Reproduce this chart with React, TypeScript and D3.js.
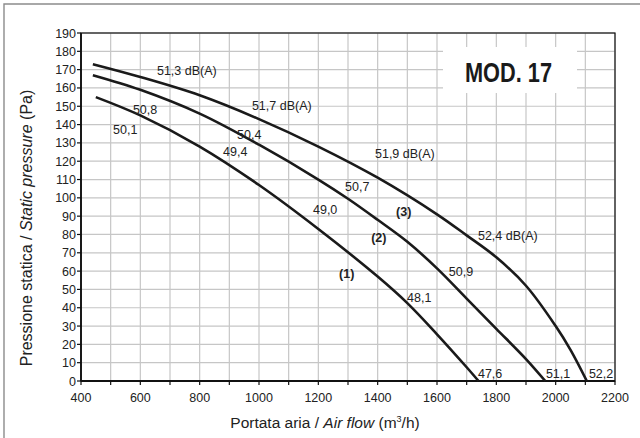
import React from "react";
import * as d3 from "d3";

// Fan performance curves: static pressure vs air flow, three speeds
const flowTicks = [400, 600, 800, 1000, 1200, 1400, 1600, 1800, 2000, 2200];
const flowGrid = d3.range(400, 2201, 100);
const pressureTicks = d3.range(0, 191, 10);

const speed1Flow = [450, 600, 800, 1000, 1200, 1400, 1500, 1600, 1700, 1740];
const speed1Pressure = [155, 145, 128, 107, 83, 57, 42.5, 25.5, 7.5, 0];

const speed2Flow = [440, 600, 800, 1000, 1200, 1300, 1400, 1500, 1600, 1700, 1800, 1900, 1965];
const speed2Pressure = [167, 159, 146, 129, 110, 99.5, 88, 76, 61.5, 45, 28.5, 12, 0];

const speed3Flow = [440, 600, 800, 1000, 1200, 1400, 1600, 1700, 1800, 1900, 2000, 2050, 2105];
const speed3Pressure = [173, 166, 156, 143, 128, 111, 91, 79.5, 67.5, 52, 30, 17, 0];

// Noise level annotations (flow, pressure anchor for text's left/baseline)
const noiseText = ["51,3 dB(A)", "50,8", "50,1", "49,4", "50,4", "51,7 dB(A)", "51,9 dB(A)", "50,7", "49,0", "52,4 dB(A)", "50,9", "48,1", "47,6", "51,1", "52,2"];
const noiseFlow = [656, 575, 508, 879, 926, 976, 1391, 1290, 1182, 1738, 1640, 1499, 1738, 1967, 2112];
const noisePressure = [167, 146, 135, 123, 132, 148, 121.8, 104, 91, 77, 57.3, 43.1, 1.6, 1.6, 1.6];

const curveText = ["(1)", "(2)", "(3)"];
const curveTextFlow = [1270, 1378, 1462];
const curveTextPressure = [56, 76, 90];

const W = 640;
const H = 438;
const plot = { left: 81, right: 615, top: 33, bottom: 381 };
const FONT = "'Liberation Sans', Arial, Helvetica, sans-serif";

export default function App() {
  const x = d3.scaleLinear().domain([400, 2200]).range([plot.left, plot.right]);
  const y = d3.scaleLinear().domain([0, 190]).range([plot.bottom, plot.top]);

  const line = d3
    .line<[number, number]>()
    .x((d) => x(d[0]))
    .y((d) => y(d[1]))
    .curve(d3.curveCatmullRom.alpha(0.5));

  const series = [
    d3.zip(speed1Flow, speed1Pressure) as [number, number][],
    d3.zip(speed2Flow, speed2Pressure) as [number, number][],
    d3.zip(speed3Flow, speed3Pressure) as [number, number][],
  ];

  return (
    <svg
      width={W}
      height={H}
      viewBox={`0 0 ${W} ${H}`}
      style={{ position: "absolute", left: 0, top: 0, background: "#fff" }}
      fontFamily={FONT}
    >
      <rect x={0} y={0} width={W} height={H} fill="#fff" />
      {/* outer frame */}
      <path d={`M4,${H + 2} V4 H${W + 2}`} fill="none" stroke="#8c8c8c" strokeWidth={1.4} />

      {/* grid */}
      <g stroke="#c6c6c6" strokeWidth={1.2}>
        {flowGrid.map((v) => (
          <line key={"gx" + v} x1={x(v)} x2={x(v)} y1={plot.top} y2={plot.bottom} />
        ))}
        {pressureTicks.map((v) => (
          <line key={"gy" + v} x1={plot.left} x2={plot.right} y1={y(v)} y2={y(v)} />
        ))}
      </g>

      {/* model label box */}
      <rect x={443} y={47} width={134} height={46} fill="#fff" />
      <text
        x={508.5}
        y={82}
        textAnchor="middle"
        fontSize={27}
        fontWeight="bold"
        fill="#1a1a1a"
        textLength={87}
        lengthAdjust="spacingAndGlyphs"
      >
        MOD. 17
      </text>

      {/* plot border */}
      <rect
        x={plot.left}
        y={plot.top}
        width={plot.right - plot.left}
        height={plot.bottom - plot.top}
        fill="none"
        stroke="#111"
        strokeWidth={1.2}
      />
      <line x1={plot.left} x2={plot.left} y1={plot.top} y2={plot.bottom} stroke="#111" strokeWidth={1.8} />
      <line x1={plot.left} x2={plot.right} y1={plot.bottom} y2={plot.bottom} stroke="#111" strokeWidth={1.8} />

      {/* y ticks */}
      {pressureTicks.map((v) => (
        <g key={"ty" + v}>
          <line x1={plot.left - 4} x2={plot.left} y1={y(v)} y2={y(v)} stroke="#111" strokeWidth={1.2} />
          <text x={plot.left - 5} y={y(v) + 4.5} textAnchor="end" fontSize={12.5} fill="#222">
            {v}
          </text>
        </g>
      ))}

      {/* x ticks */}
      {flowGrid.map((v) => (
        <line key={"tx" + v} x1={x(v)} x2={x(v)} y1={plot.bottom} y2={plot.bottom + 4} stroke="#111" strokeWidth={1.2} />
      ))}
      {flowTicks.map((v) => (
        <text key={"lx" + v} x={x(v)} y={402} textAnchor="middle" fontSize={12.5} fill="#222">
          {v}
        </text>
      ))}

      {/* axis titles */}
      <text x={325} y={428} textAnchor="middle" fontSize={15.5} fill="#222">
        Portata aria / <tspan fontStyle="italic">Air flow</tspan> (m
        <tspan fontSize={9} dy={-6}>3</tspan>
        <tspan dy={6}>/h)</tspan>
      </text>
      <text
        transform={`translate(32, 228) rotate(-90)`}
        textAnchor="middle"
        fontSize={16}
        fill="#222"
      >
        Pressione statica / <tspan fontStyle="italic">Static pressure</tspan> (Pa)
      </text>

      {/* curves */}
      {series.map((s, i) => (
        <path key={"c" + i} d={line(s) || ""} fill="none" stroke="#1a1a1a" strokeWidth={2.6} />
      ))}

      {/* noise labels */}
      {noiseText.map((t, i) => (
        <text key={"n" + i} x={x(noiseFlow[i])} y={y(noisePressure[i])} fontSize={12.5} fill="#222">
          {t}
        </text>
      ))}
      {curveText.map((t, i) => (
        <text
          key={"ct" + i}
          x={x(curveTextFlow[i])}
          y={y(curveTextPressure[i])}
          fontSize={12.5}
          fontWeight="bold"
          fill="#222"
        >
          {t}
        </text>
      ))}
    </svg>
  );
}
